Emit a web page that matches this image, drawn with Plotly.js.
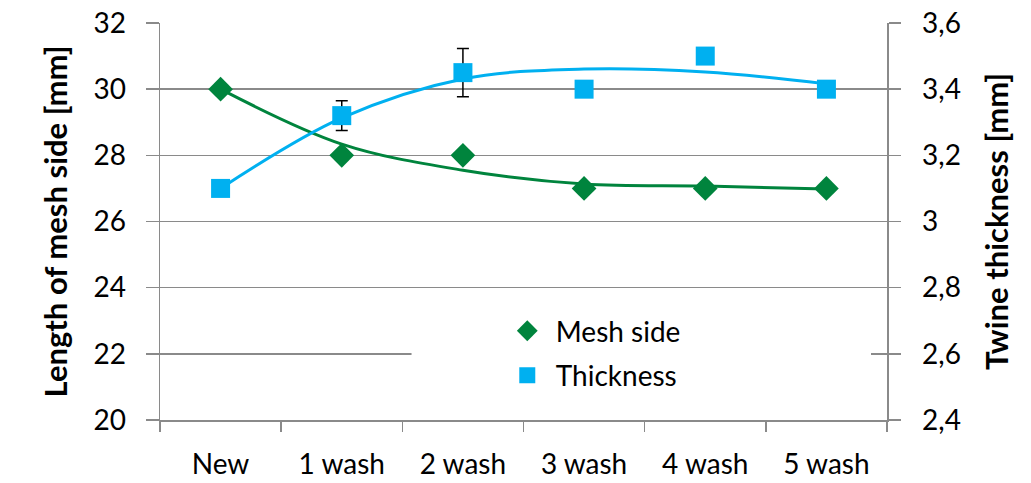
<!DOCTYPE html>
<html>
<head>
<meta charset="utf-8">
<script src="https://cdn.plot.ly/plotly-3.0.1.min.js"></script>
<style>
  html, body { margin: 0; padding: 0; background: #fff; }
  #chart { width: 1031px; height: 483px; }
</style>
</head>
<body>
<div id="chart"></div>
<script>
// categories
const washes = ['New', '1 wash', '2 wash', '3 wash', '4 wash', '5 wash'];

// measured values
const meshSide = [30, 28, 28, 27, 27, 27];
const thickness = [3.1, 3.32, 3.45, 3.4, 3.5, 3.4];
const thicknessErr = [0, 0.045, 0.073, 0, 0, 0];

// trend lines at each category
const meshTrend = [30, 28.34, 27.55, 27.13, 27.07, 26.98];
const thicknessTrend = [3.1, 3.313, 3.431, 3.461, 3.452, 3.416];

const green = '#00843D';
const blue = '#00B0F0';
const axisGrey = '#8a8a8a';
const font = 'Lato, "Liberation Sans", sans-serif';

const traces = [
  {
    x: washes, y: meshTrend, type: 'scatter', mode: 'lines',
    line: { color: green, width: 3, shape: 'spline' },
    showlegend: false, hoverinfo: 'skip'
  },
  {
    x: washes, y: thicknessTrend, type: 'scatter', mode: 'lines', yaxis: 'y2',
    line: { color: blue, width: 3, shape: 'spline' },
    showlegend: false, hoverinfo: 'skip'
  },
  {
    x: washes, y: meshSide, type: 'scatter', mode: 'markers', name: 'Mesh side',
    legendgroup: 'a',
    marker: { symbol: 'diamond', size: 19, color: green }
  },
  {
    x: washes, y: thickness, type: 'scatter', mode: 'markers', name: 'Thickness', yaxis: 'y2',
    legendgroup: 'b',
    marker: { symbol: 'square', size: 19, color: blue },
    error_y: { type: 'data', array: thicknessErr, visible: true, color: '#000', thickness: 1.5, width: 6 }
  }
];

const tickFont = { family: font, size: 28, color: '#000' };
const titleFont = { family: font, size: 31, color: '#000' };

const layout = {
  width: 1031,
  height: 483,
  margin: { l: 160, r: 144, t: 23, b: 63 },
  paper_bgcolor: '#fff',
  plot_bgcolor: '#fff',
  separators: ',.',
  font: { family: font, color: '#000' },
  showlegend: true,
  legend: {
    x: 0.466, y: 0.287, xanchor: 'left', yanchor: 'top',
    bgcolor: 'rgba(0,0,0,0)',
    font: { family: font, size: 28, color: '#000' },
    traceorder: 'grouped',
    itemwidth: 47, tracegroupgap: 5
  },
  xaxis: {
    type: 'category',
    range: [-0.5, 5.5],
    tickson: 'boundaries',
    ticks: 'outside', ticklen: 10, tickcolor: axisGrey, tickwidth: 1.5,
    showline: true, linecolor: axisGrey, linewidth: 1.5,
    showgrid: false, zeroline: false,
    tickfont: tickFont,
    ticklabelstandoff: 19
  },
  yaxis: {
    range: [20, 32], dtick: 2,
    ticks: 'outside', ticklen: 13, tickcolor: axisGrey, tickwidth: 1.5,
    showline: true, linecolor: axisGrey, linewidth: 1.5,
    showgrid: true, gridcolor: axisGrey, gridwidth: 1.5,
    zeroline: false,
    tickfont: tickFont,
    ticklabelstandoff: 14,
    title: { text: '<b>Length of mesh side [mm]</b>', font: titleFont, standoff: 16 }
  },
  yaxis2: {
    overlaying: 'y', side: 'right',
    range: [2.4, 3.6], dtick: 0.2,
    ticks: 'outside', ticklen: 12, tickcolor: axisGrey, tickwidth: 1.5,
    showline: true, linecolor: axisGrey, linewidth: 1.5,
    showgrid: false, zeroline: false,
    tickfont: tickFont,
    ticklabelstandoff: 16,
    title: { text: '<b>Twine thickness [mm]</b>', font: titleFont, standoff: 26 }
  },
  shapes: [
    {
      type: 'rect', xref: 'paper', yref: 'paper', layer: 'above',
      x0: 0.346, x1: 0.978, y0: 0.04, y1: 0.29,
      fillcolor: '#fff', line: { width: 0 }
    }
  ]
};

Plotly.newPlot('chart', traces, layout, { displayModeBar: false, staticPlot: true });
</script>
</body>
</html>
